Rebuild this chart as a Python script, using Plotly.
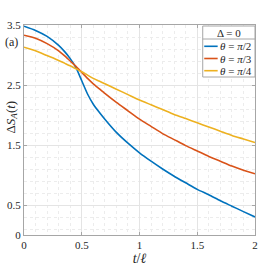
import plotly.graph_objects as go

# ---- data ----
t_vals = [0, 0.1, 0.2, 0.3, 0.35, 0.4, 0.45, 0.5, 0.55, 0.6, 0.65, 0.7, 0.8, 0.9,
          1.0, 1.1, 1.2, 1.3, 1.4, 1.5, 1.6, 1.7, 1.8, 1.9, 2.0]
s_pi2 = [3.48, 3.41, 3.31, 3.16, 3.06, 2.94, 2.79, 2.57, 2.35, 2.18, 2.05, 1.93, 1.71, 1.53,
         1.37, 1.23, 1.10, 0.98, 0.87, 0.76, 0.67, 0.57, 0.48, 0.39, 0.30]
s_pi3 = [3.33, 3.28, 3.19, 3.07, 2.99, 2.90, 2.81, 2.71, 2.61, 2.52, 2.44, 2.36, 2.21, 2.07,
         1.93, 1.81, 1.69, 1.59, 1.49, 1.40, 1.31, 1.23, 1.15, 1.08, 1.02]
s_pi4 = [3.13, 3.07, 2.99, 2.91, 2.865, 2.82, 2.77, 2.72, 2.665, 2.61, 2.565, 2.52, 2.43, 2.34,
         2.25, 2.17, 2.09, 2.01, 1.94, 1.87, 1.80, 1.73, 1.66, 1.60, 1.54]

series_names = ["<i>θ</i> = <i>π</i>/2", "<i>θ</i> = <i>π</i>/3", "<i>θ</i> = <i>π</i>/4"]
series_colors = ["#0072BD", "#D95319", "#EDB120"]
legend_title = "Δ = 0"

x_ticks = [0, 0.5, 1, 1.5, 2]
x_tick_text = ["0", "0.5", "1", "1.5", "2"]
y_ticks = [0, 0.5, 1.5, 2.5, 3.5]
y_tick_text = ["0", "0.5", "1.5", "2.5", "3.5"]

FONT = "Liberation Serif"
TXT = "#262626"

fig = go.Figure()
for ys, name, col in zip([s_pi2, s_pi3, s_pi4], series_names, series_colors):
    fig.add_trace(go.Scatter(x=t_vals, y=ys, mode="lines", name=name,
                             line=dict(color=col, width=1.6, shape="spline", smoothing=0.6),
                             showlegend=False))

W, H = 269, 273
L, R, T, B = 23.5, 13.5, 25, 38
pw, ph = W - L - R, H - T - B

def px(x):
    return (x - L) / pw

def py(y):
    return (H - B - y) / ph

axis_common = dict(
    showline=True, linecolor="#a6a6a6", linewidth=1, mirror="ticks",
    ticks="inside", ticklen=3, tickcolor="#a6a6a6",
    showgrid=True, gridcolor="#e4e4e4", gridwidth=1, automargin=False,
    zeroline=False, tickfont=dict(family=FONT, size=11, color=TXT),
)

fig.update_xaxes(range=[0, 2], tickvals=x_ticks, ticktext=x_tick_text,
                 minor=dict(dtick=0.1, showgrid=True, gridcolor="#ececec", griddash="dot", ticks=""),
                 title=dict(text="<i>t</i>/<i>ℓ</i>", font=dict(family=FONT, size=14, color=TXT), standoff=0),
                 **axis_common)
fig.update_yaxes(range=[0, 3.5], tickvals=y_ticks, ticktext=y_tick_text,
                 minor=dict(tick0=0.1, dtick=0.2, showgrid=True, gridcolor="#ececec", griddash="dot", ticks=""),
                 **axis_common)

# y-axis label (placed between the 2.5 and 1.5 tick labels, as in the reference)
fig.add_annotation(xref="paper", yref="paper", x=px(10), y=py(117),
                   text="Δ<i>S</i><sub><i>A</i></sub>(<i>t</i>)", textangle=-90, showarrow=False,
                   font=dict(family=FONT, size=13, color=TXT), xanchor="center", yanchor="middle")

# manual compact legend box
bx0, bx1, by0, by1 = 203, 255.5, 26, 77
fig.add_shape(type="rect", xref="paper", yref="paper", x0=px(bx0), x1=px(bx1), y0=py(by1), y1=py(by0),
              line=dict(color="#a6a6a6", width=1), fillcolor="white", layer="above")
fig.add_shape(type="line", xref="paper", yref="paper", x0=px(bx0), x1=px(bx1), y0=py(39), y1=py(39),
              line=dict(color="#a6a6a6", width=1), layer="above")
fig.add_annotation(xref="paper", yref="paper", x=px(229.5), y=py(32.5), text=legend_title, showarrow=False,
                   font=dict(family=FONT, size=11, color=TXT), xanchor="center", yanchor="middle")
for i, (name, col) in enumerate(zip(series_names, series_colors)):
    yy = 46.3 + 12.2 * i
    fig.add_shape(type="line", xref="paper", yref="paper", x0=px(204.5), x1=px(218), y0=py(yy), y1=py(yy),
                  line=dict(color=col, width=1.6), layer="above")
    fig.add_annotation(xref="paper", yref="paper", x=px(218.5), y=py(yy), text=name, showarrow=False,
                       font=dict(family=FONT, size=11, color=TXT), xanchor="left", yanchor="middle")

fig.add_annotation(xref="paper", yref="paper", x=px(10.5), y=py(42), text="(a)", showarrow=False,
                   font=dict(family=FONT, size=12, color=TXT), xanchor="center", yanchor="middle")

fig.update_layout(width=W, height=H, margin=dict(l=L, r=R, t=T, b=B, autoexpand=False),
                  paper_bgcolor="white", plot_bgcolor="white", template="none")
fig.write_html("out.html", config={"displayModeBar": False},
               post_script="document.body.style.margin='0';document.body.style.padding='0';")
